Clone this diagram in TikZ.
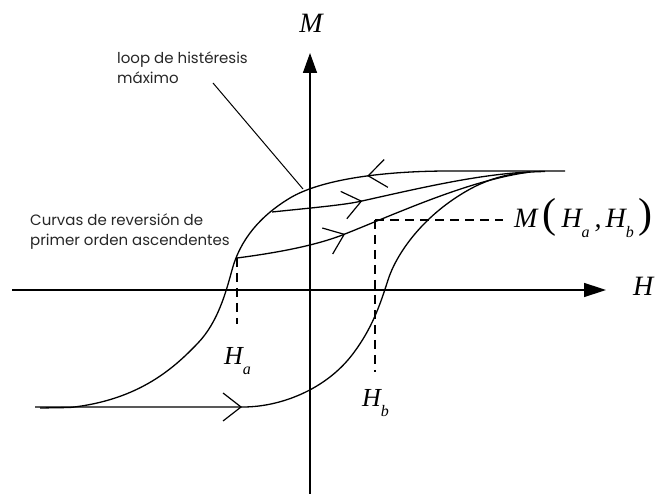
\documentclass[tikz,border=0pt]{standalone}
\usepackage{fontspec}
\setmainfont{Liberation Serif}
\newfontfamily\lblfont{Poppins}
\usetikzlibrary{arrows.meta,decorations.markings}
\newcommand{\msub}[1]{\raisebox{-10pt}{\fontsize{16}{16}\selectfont #1}}
\newcommand{\bigpar}[1]{{\upshape\fontsize{42}{42}\selectfont #1}}
\tikzset{
  barbtip/.tip={Straight Barb[length=18pt,width=28pt,line width=1.2pt]},
  axis/.style={line width=1.5pt},
  curve/.style={line width=1.3pt},
  guide/.style={line width=1.3pt, dash pattern=on 9pt off 6pt},
  lbl/.style={font=\lblfont\fontsize{15}{20}\selectfont, inner sep=0pt, align=left, text=black!85},
  mlbl/.style={font=\itshape\fontsize{26}{26}\selectfont, inner sep=0pt},
  arrowat/.style={postaction={decorate}, decoration={markings, mark=at position #1 with {\arrow{barbtip}}}}
}
\begin{document}
\begin{tikzpicture}[x=1pt,y=-1pt]
\useasboundingbox (0,0) rectangle (657,494);
% axes
\coordinate (vs) at (310,494);
\coordinate (ve) at (310,53);
\coordinate (hs) at (12,290);
\coordinate (he) at (606,290);
\draw[axis, -{Triangle[length=20pt,width=14pt]}] (vs) -- (ve);
\draw[axis, -{Triangle[length=22pt,width=14pt]}] (hs) -- (he);
\node[mlbl, font=\itshape\fontsize{28}{28}\selectfont, anchor=base] (Mlab) at (311,33) {M};
\node[mlbl, font=\itshape\fontsize{28}{28}\selectfont, anchor=base west] (Hlab) at (633,296) {H};
% main loop, descending branch
\draw[curve, arrowat=198pt] (565,171) -- (450,171)
  .. controls (380,171) and (320,180) .. (290,198)
  .. controls (260,216) and (240,240) .. (232,270)
  .. controls (226,292) and (218,322) .. (198,343)
  .. controls (175,367) and (140,400) .. (70,407.5)
  -- (40,408);
% main loop, ascending branch
\draw[curve, arrowat=207pt] (35,407) -- (243,407)
  .. controls (280,407) and (325,390) .. (352,355)
  .. controls (372,329) and (380,305) .. (388,280)
  .. controls (396,255) and (420,220) .. (460,195)
  .. controls (490,176) and (515,172) .. (545,171.5);
% first order reversal curves
\draw[curve, arrowat=111pt] (237,258)
  .. controls (275,253) and (315,246) .. (345,234)
  .. controls (400,212) and (470,180) .. (530,172);
\draw[curve, arrowat=91pt] (272,212)
  .. controls (310,208) and (345,205) .. (362,201)
  .. controls (420,188) and (480,174) .. (530,172);
% guides
\coordinate (pa) at (237,258);
\coordinate (pa2) at (237,324);
\coordinate (pm) at (375,220);
\coordinate (pb2) at (375,372);
\coordinate (pm2) at (503,220);
\draw[guide] (pa) -- (pa2);
\draw[guide] (pm) -- (pb2);
\draw[guide] (pm) -- (pm2);
% leader
\coordinate (ls) at (213,83);
\coordinate (le) at (303,189);
\draw[line width=1pt] (ls) -- (le);
% labels
\node[lbl, anchor=north west] (loop) at (117,52) {loop de histéresis\\máximo};
\node[lbl, anchor=north west] (forc) at (30,213) {Curvas de reversión de\\primer orden ascendentes};
\node[mlbl, anchor=base west] (Ha) at (224,365) {H\msub{a}};
\node[mlbl, anchor=base west] (Hb) at (362,407) {H\msub{b}};
\node[mlbl, font=\itshape\fontsize{28}{28}\selectfont, anchor=base west] (Mab) at (514,228) {M\hspace{5pt}\bigpar{(}\hspace{5pt}H\msub{a}\hspace{5pt},\hspace{4pt}H\msub{b}\hspace{5pt}\bigpar{)}};
\end{tikzpicture}
\end{document}
